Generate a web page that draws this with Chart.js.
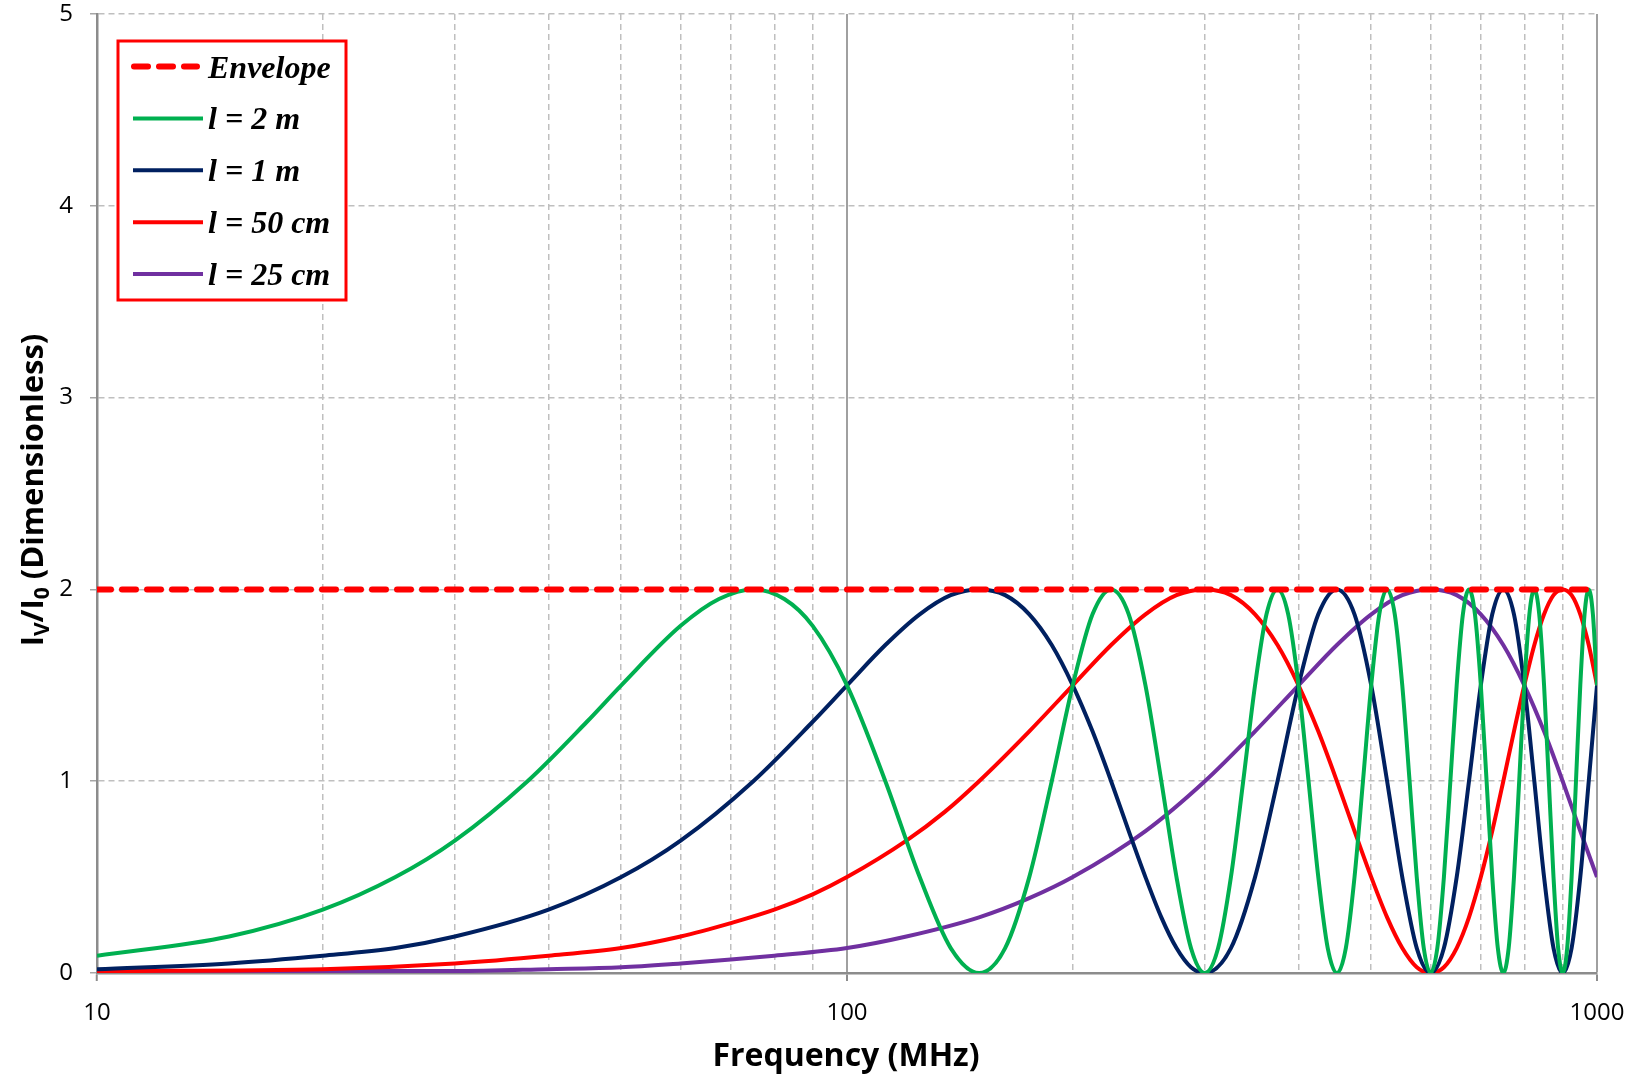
<!DOCTYPE html>
<html>
<head>
<meta charset="utf-8">
<title>Iv/I0 vs frequency</title>
<script src="https://cdn.jsdelivr.net/npm/chart.js@4/dist/chart.umd.min.js"></script>
<style>
  html, body { margin: 0; padding: 0; background: #fff; overflow: hidden; }
  canvas { display: block; }
</style>
</head>
<body>
<canvas id="ivChart" width="1642" height="1077"></canvas>
<script>
// values (frequency in MHz, Iv/I0)
const seriesLabels = ['Envelope', 'l = 2 m', 'l = 1 m', 'l = 50 cm', 'l = 25 cm'];
const seriesColors = ['#FF0000', '#00B050', '#002060', '#FF0000', '#7030A0'];

const envelopeFreq = [10, 1000];
const envelopeVal = [2, 2];

const green2mFreq = [10, 15, 20, 25, 30, 37.5, 45, 50, 60, 67.5, 75, 82.5, 90, 100, 112.5, 125, 137.5, 150,
    162.5, 175, 187.5, 200, 212.5, 225, 237.5, 250, 262.5, 275, 287.5, 300,
    312.5, 325, 337.5, 350, 362.5, 375, 387.5, 400, 412.5, 425, 437.5, 450,
    462.5, 475, 487.5, 500, 512.5, 525, 537.5, 550, 562.5, 575, 587.5, 600,
    612.5, 625, 637.5, 650, 662.5, 675, 687.5, 700, 712.5, 725, 737.5, 750,
    762.5, 775, 787.5, 800, 812.5, 825, 837.5, 850, 862.5, 875, 887.5, 900,
    912.5, 925, 937.5, 950, 962.5, 975, 987.5, 1000];
const green2mVal = [0.09, 0.19, 0.33, 0.5, 0.69, 1.0, 1.31, 1.5, 1.81, 1.95, 2.0, 1.95, 1.81, 1.5, 1.0, 0.5, 0.13, 0,
    0.13, 0.5, 1.0, 1.5, 1.87, 2.0, 1.87, 1.5, 1.0, 0.5, 0.13, 0,
    0.13, 0.5, 1.0, 1.5, 1.87, 2.0, 1.87, 1.5, 1.0, 0.5, 0.13, 0,
    0.13, 0.5, 1.0, 1.5, 1.87, 2.0, 1.87, 1.5, 1.0, 0.5, 0.13, 0,
    0.13, 0.5, 1.0, 1.5, 1.87, 2.0, 1.87, 1.5, 1.0, 0.5, 0.13, 0,
    0.13, 0.5, 1.0, 1.5, 1.87, 2.0, 1.87, 1.5, 1.0, 0.5, 0.13, 0,
    0.13, 0.5, 1.0, 1.5, 1.87, 2.0, 1.87, 1.5];

const navy1mFreq = [10, 15, 20, 25, 30, 40, 50, 60, 75, 90, 100, 112.5, 125, 137.5, 150,
    162.5, 175, 187.5, 200, 212.5, 225, 237.5, 250, 262.5, 275, 287.5, 300,
    325, 350, 375, 400, 425, 450, 475, 500, 525, 550, 575, 600,
    625, 650, 675, 700, 725, 750, 775, 800, 825, 850, 875, 900,
    925, 950, 975, 1000];
const navy1mVal = [0.02, 0.05, 0.09, 0.13, 0.19, 0.33, 0.5, 0.69, 1.0, 1.31, 1.5, 1.71, 1.87, 1.97, 2.0,
    1.97, 1.87, 1.71, 1.5, 1.26, 1.0, 0.74, 0.5, 0.29, 0.13, 0.03, 0,
    0.13, 0.5, 1.0, 1.5, 1.87, 2.0, 1.87, 1.5, 1.0, 0.5, 0.13, 0,
    0.13, 0.5, 1.0, 1.5, 1.87, 2.0, 1.87, 1.5, 1.0, 0.5, 0.13, 0,
    0.13, 0.5, 1.0, 1.5];

const red50cmFreq = [10, 20, 30, 40, 50, 60, 70, 80, 90, 100, 120, 135, 150, 175, 200, 225, 250, 275, 300,
    325, 350, 375, 400, 425, 450, 475, 500, 525, 550, 575, 600,
    625, 650, 675, 700, 725, 750, 775, 800, 825, 850, 875, 900,
    925, 950, 975, 1000];
const red50cmVal = [0.01, 0.02, 0.05, 0.09, 0.13, 0.19, 0.26, 0.33, 0.41, 0.5, 0.69, 0.84, 1.0, 1.26, 1.5, 1.71, 1.87, 1.97, 2.0,
    1.97, 1.87, 1.71, 1.5, 1.26, 1.0, 0.74, 0.5, 0.29, 0.13, 0.03, 0,
    0.03, 0.13, 0.29, 0.5, 0.74, 1.0, 1.26, 1.5, 1.71, 1.87, 1.97, 2.0,
    1.97, 1.87, 1.71, 1.5];

const purple25cmFreq = [10, 20, 30, 40, 50, 60, 70, 80, 100, 120, 150, 175, 200, 250, 300, 350, 400, 450, 500, 550, 600,
    650, 700, 750, 800, 850, 900, 950, 1000];
const purple25cmVal = [0.0, 0.01, 0.01, 0.02, 0.03, 0.05, 0.07, 0.09, 0.13, 0.19, 0.29, 0.39, 0.5, 0.74, 1.0, 1.26, 1.5, 1.71, 1.87, 1.97, 2.0,
    1.97, 1.87, 1.71, 1.5, 1.26, 1.0, 0.74, 0.5];

const xTickValues = [10, 20, 30, 40, 50, 60, 70, 80, 90, 100, 200, 300, 400, 500, 600, 700, 800, 900, 1000];
const xTickLabels = [10, 100, 1000];
const xSolidLines = [100, 1000];

document.addEventListener('DOMContentLoaded', () => {

    function toPoints (xs, ys) {
        return xs.map((x, i) => ({ x: x, y: ys[i] }));
    }

    function lineSet (label, xs, ys, color, width, dash) {
        return {
            label: label,
            data: toPoints(xs, ys),
            borderColor: color,
            backgroundColor: color,
            borderWidth: width,
            borderDash: dash || [],
            borderCapStyle: dash ? 'round' : 'butt',
            pointRadius: 0,
            fill: false
        };
    }

    // axis titles (with subscripts) and the boxed legend
    const decorations = {
        id: 'decorations',
        afterDraw(chart) {
            const ctx = chart.ctx;
            ctx.save();

            // x title
            ctx.fillStyle = '#000';
            ctx.font = 'bold 32px "Open Sans"';
            ctx.textAlign = 'center';
            ctx.textBaseline = 'alphabetic';
            ctx.fillText('Frequency (MHz)', 846, 1066);

            // y title: I_V/I_0 (Dimensionless)
            const parts = [
                { t: 'I', sub: false }, { t: 'V', sub: true }, { t: '/I', sub: false },
                { t: '0', sub: true }, { t: ' (Dimensionless)', sub: false }
            ];
            const bigFont = 'bold 31px "Open Sans"';
            const subFont = 'bold 21px "Open Sans"';
            let total = 0;
            parts.forEach(p => {
                ctx.font = p.sub ? subFont : bigFont;
                p.w = ctx.measureText(p.t).width;
                total += p.w;
            });
            ctx.translate(43, 490);
            ctx.rotate(-Math.PI / 2);
            ctx.textAlign = 'left';
            let px = -total / 2;
            parts.forEach(p => {
                ctx.font = p.sub ? subFont : bigFont;
                ctx.fillText(p.t, px, p.sub ? 6 : 0);
                px += p.w;
            });
            ctx.setTransform(1, 0, 0, 1, 0, 0);

            // legend box
            ctx.fillStyle = '#fff';
            ctx.fillRect(118, 41, 228, 259);
            ctx.strokeStyle = '#FF0000';
            ctx.lineWidth = 3;
            ctx.strokeRect(118, 41, 228, 259);

            ctx.font = 'italic bold 32px "Liberation Serif"';
            ctx.textAlign = 'left';
            seriesLabels.forEach((label, i) => {
                const y = 66.5 + i * 51.9;
                ctx.beginPath();
                if (i === 0) {
                    ctx.setLineDash([14, 11]);
                    ctx.lineCap = 'round';
                    ctx.lineWidth = 6;
                    ctx.moveTo(134, y);
                    ctx.lineTo(197, y);
                } else {
                    ctx.setLineDash([]);
                    ctx.lineCap = 'butt';
                    ctx.lineWidth = 4;
                    ctx.moveTo(133, y);
                    ctx.lineTo(203, y);
                }
                ctx.strokeStyle = seriesColors[i];
                ctx.stroke();
                ctx.setLineDash([]);
                ctx.fillStyle = '#000';
                ctx.fillText(label, 208, y + 11);
            });
            ctx.restore();
        }
    };

    const ctx = document.getElementById('ivChart').getContext('2d');
    new Chart(ctx, {
        type: 'line',
        data: {
            datasets: [
                lineSet(seriesLabels[0], envelopeFreq, envelopeVal, seriesColors[0], 6, [14, 11]),
                lineSet(seriesLabels[1], green2mFreq, green2mVal, seriesColors[1], 4),
                lineSet(seriesLabels[2], navy1mFreq, navy1mVal, seriesColors[2], 4),
                lineSet(seriesLabels[3], red50cmFreq, red50cmVal, seriesColors[3], 4),
                lineSet(seriesLabels[4], purple25cmFreq, purple25cmVal, seriesColors[4], 4)
            ]
        },
        options: {
            responsive: false,
            animation: false,
            layout: { padding: { top: 14, right: 45, left: 0, bottom: 0 } },
            elements: { line: { cubicInterpolationMode: 'monotone' } },
            plugins: {
                legend: { display: false },
                tooltip: { enabled: false }
            },
            scales: {
                x: {
                    type: 'logarithmic',
                    min: 10,
                    max: 1000,
                    afterBuildTicks: scale => {
                        scale.ticks = xTickValues.map(v => ({ value: v, major: xTickLabels.includes(v) }));
                    },
                    afterFit: scale => {
                        scale.height = 104;
                        scale.paddingLeft = 0;
                        scale.paddingRight = 0;
                    },
                    ticks: {
                        autoSkip: false,
                        maxRotation: 0,
                        padding: 18,
                        color: '#000',
                        font: { family: 'Open Sans', size: 24 },
                        callback: value => xTickLabels.includes(value) ? String(value) : ''
                    },
                    grid: {
                        color: c => (c.tick && xSolidLines.includes(c.tick.value)) ? '#a0a0a0' : '#bfbfbf',
                        lineWidth: c => (c.tick && xSolidLines.includes(c.tick.value)) ? 2 : 1.5,
                        tickLength: 8,
                        tickWidth: 2,
                        tickColor: c => (c.tick && xTickLabels.includes(c.tick.value)) ? '#8c8c8c' : 'rgba(0,0,0,0)'
                    },
                    border: {
                        color: '#8c8c8c',
                        width: 2.5,
                        dash: c => (c.tick && xSolidLines.includes(c.tick.value)) ? [] : [6, 4]
                    }
                },
                y: {
                    min: 0,
                    max: 5,
                    afterFit: scale => {
                        scale.width = 97;
                        scale.paddingTop = 0;
                        scale.paddingBottom = 0;
                    },
                    ticks: {
                        stepSize: 1,
                        padding: 17,
                        color: '#000',
                        font: { family: 'Open Sans', size: 24 }
                    },
                    grid: {
                        color: '#bfbfbf',
                        lineWidth: 1.5,
                        tickLength: 7,
                        tickWidth: 1.5,
                        tickColor: '#a6a6a6'
                    },
                    border: {
                        color: '#8c8c8c',
                        width: 2.5,
                        dash: [6, 4]
                    }
                }
            }
        },
        plugins: [decorations]
    });

});
</script>
</body>
</html>
